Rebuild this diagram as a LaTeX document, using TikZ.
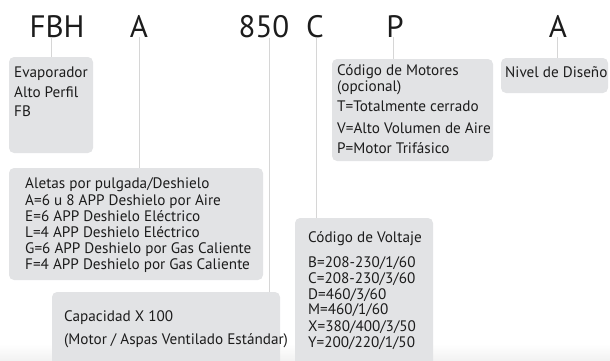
\documentclass[tikz,border=0pt]{standalone}
\usepackage{fontspec}
\setmainfont{PT Sans}
\definecolor{boxgray}{HTML}{E2E3E5}
\definecolor{linegray}{HTML}{D6D6D6}
\definecolor{txt}{HTML}{1C1C1C}
\begin{document}
\begin{tikzpicture}[x=1pt,y=-1pt,
  box/.style={fill=boxgray,rounded corners=5pt},
  conn/.style={draw=linegray,line width=0.9pt},
  code/.style={anchor=base,inner sep=0pt,text=txt,font=\fontsize{31}{31}\selectfont},
  lbl/.style={anchor=base west,inner sep=0pt,text=txt,font=\fontsize{15.2}{16}\selectfont}]
\useasboundingbox (0,0) rectangle (610,360);
\clip (0,0) rectangle (610,360);
\shade[top color=white,bottom color=black!5] (0,344) rectangle (610,360);
% boxes
\fill[box] (9,57) rectangle (93,153);
\coordinate (fbt) at (51,57);
\fill[box] (332,59) rectangle (493,161);
\coordinate (mott) at (393,59);
\fill[box] (501,58) rectangle (608,93);
\coordinate (nivt) at (557,58);
\fill[box] (9,168) rectangle (263,280);
\coordinate (alet) at (139,168);
\fill[box] (52,292) rectangle (280,390);
\coordinate (capt) at (269,292);
\fill[box] (295,218) rectangle (433,390);
\coordinate (volt) at (316,218);
% codes
\node[code] (fbh) at (57,37) {FBH};
\node[code] (a1) at (139,37) {A};
\node[code] (n850) at (264,37) {850};
\node[code] (c) at (315,37) {C};
\node[code] (p) at (395,37) {P};
\node[code] (a2) at (558,37) {A};
% connectors
\draw[conn] (fbt |- fbh.south) -- (fbt);
\draw[conn] (alet |- a1.south) -- (alet);
\draw[conn] (capt |- n850.south) -- (capt);
\draw[conn] (volt |- c.south) -- (volt);
\draw[conn] (mott |- p.south) -- (mott);
\draw[conn] (nivt |- a2.south) -- (nivt);
% texts
\node[lbl] (t1) at (14,77.5) {Evaporador};
\node[lbl] (t2) at (14,97) {Alto Perfil};
\node[lbl] (t3) at (14,116.5) {FB};
\node[lbl] (m1) at (337,75.5) {Código de Motores};
\node[lbl] (m2) at (337,91.5) {(opcional)};
\node[lbl] (m3) at (337,111.5) {T=Totalmente cerrado};
\node[lbl] (m4) at (337,133.5) {V=Alto Volumen de Aire};
\node[lbl] (m5) at (337,153.5) {P=Motor Trifásico};
\node[lbl] (nv) at (505,77.5) {Nivel de Diseño};
\node[lbl] (a01) at (25,188.5) {Aletas por pulgada/Deshielo};
\node[lbl] (a02) at (25,205) {A=6 u 8 APP Deshielo por Aire};
\node[lbl] (a03) at (25,221.5) {E=6 APP Deshielo Eléctrico};
\node[lbl] (a04) at (25,237.5) {L=4 APP Deshielo Eléctrico};
\node[lbl] (a05) at (25,253.5) {G=6 APP Deshielo por Gas Caliente};
\node[lbl] (a06) at (25,269.5) {F=4 APP Deshielo por Gas Caliente};
\node[lbl] (c1) at (64,321.5) {Capacidad X 100};
\node[lbl] (c2) at (64,344.5) {(Motor / Aspas Ventilado Estándar)};
\node[lbl] (v0) at (308,242.5) {Código de Voltaje};
\node[lbl] (v1) at (308,267.5) {B=208-230/1/60};
\node[lbl] (v2) at (308,283.5) {C=208-230/3/60};
\node[lbl] (v3) at (308,299.5) {D=460/3/60};
\node[lbl] (v4) at (308,314.5) {M=460/1/60};
\node[lbl] (v5) at (308,331.5) {X=380/400/3/50};
\node[lbl] (v6) at (308,347.5) {Y=200/220/1/50};
\end{tikzpicture}
\end{document}
